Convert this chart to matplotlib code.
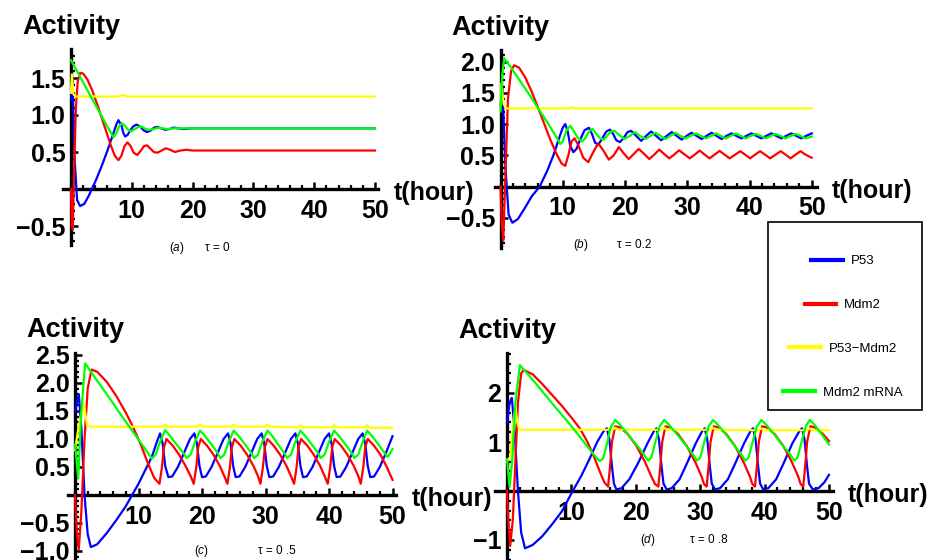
import matplotlib.pyplot as plt
from matplotlib.ticker import MultipleLocator
from matplotlib.patches import Rectangle

plt.rcParams['font.family'] = ['Liberation Sans', 'DejaVu Sans']
plt.rcParams['mathtext.fontset'] = 'custom'
plt.rcParams['mathtext.it'] = 'Liberation Sans:italic'
plt.rcParams['mathtext.rm'] = 'Liberation Sans'

# ---- data (t in hours, activity) ----
species = ['P53', 'Mdm2', 'P53\u2212Mdm2', 'Mdm2 mRNA']
colors = ['#0000ff', '#ff0000', '#ffff00', '#00ff00']
xticks = [10, 20, 30, 40, 50]
xticklabels = ['10', '20', '30', '40', '50']

# (a) tau = 0
p53_a_t = [0, 0.25, 0.6, 1.0, 1.5, 2.2, 3.0, 3.4, 4.0, 5.0, 6.0, 7.0, 7.5, 7.8, 8.3, 8.6, 8.9, 9.3, 9.8, 10.3,
           10.8, 11.4, 12.0, 12.5, 13.1, 13.7, 14.2, 14.8, 15.5, 16.2, 16.9, 17.6, 18.5, 20.0, 50.0]
p53_a = [1.2, 1.5, 0.4, -0.15, -0.23, -0.2, -0.08, 0.0, 0.1, 0.3, 0.52, 0.76, 0.88, 0.93, 0.86, 0.76, 0.71, 0.73,
         0.8, 0.85, 0.87, 0.84, 0.79, 0.77, 0.79, 0.83, 0.84, 0.82, 0.80, 0.81, 0.83, 0.82, 0.81, 0.82, 0.82]
mdm2_a_t = [0, 0.15, 0.3, 0.5, 0.8, 1.1, 1.5, 2.0, 2.7, 3.5, 4.5, 5.5, 6.5, 7.2, 7.8, 8.3, 8.8, 9.3, 9.8, 10.3,
            10.9, 11.5, 12.0, 12.5, 13.0, 13.6, 14.2, 14.9, 15.6, 16.3, 17.1, 18.0, 19.0, 20.0, 50.0]
mdm2_a = [0.0, -0.45, -0.55, 0.2, 1.1, 1.45, 1.57, 1.56, 1.48, 1.33, 1.1, 0.85, 0.6, 0.45, 0.39, 0.45, 0.58, 0.63,
          0.58, 0.49, 0.46, 0.52, 0.58, 0.59, 0.55, 0.5, 0.49, 0.52, 0.55, 0.53, 0.50, 0.52, 0.53, 0.52, 0.52]
cplx_a_t = [0, 0.15, 0.4, 0.8, 7.8, 8.5, 9.2, 50]
cplx_a = [1.3, 1.55, 1.28, 1.25, 1.25, 1.27, 1.25, 1.25]
mrna_a_t = [0, 1, 2, 3, 4, 5, 6, 7.0, 7.5, 8.0, 8.4, 8.9, 9.4, 9.9, 10.5, 11.1, 11.7, 12.3, 12.9, 13.6, 14.3,
            15.0, 15.8, 17.0, 50.0]
mrna_a = [1.74, 1.59, 1.44, 1.29, 1.14, 0.99, 0.84, 0.70, 0.76, 0.86, 0.89, 0.85, 0.80, 0.78, 0.81, 0.84, 0.84,
          0.81, 0.80, 0.81, 0.83, 0.82, 0.81, 0.82, 0.82]

# (b) tau = 0.2
p53_b_t = [0, 0.3, 0.8, 1.3, 1.9, 2.8, 4.0, 5.0, 6.3, 7.5, 8.5, 9.5, 10.0, 10.4, 10.8, 11.2, 11.7, 12.2, 12.8,
           13.5, 14.2, 14.7, 15.2, 15.7, 16.3, 17.0, 17.6, 18.1, 18.6, 19.2, 19.8, 20.4, 21.0, 21.8, 22.6, 23.4,
           24.2, 25.0, 25.8, 26.7, 27.5, 28.3, 29.1, 29.9, 30.7, 31.5, 32.3, 33.1, 33.9, 34.7, 35.5, 36.3, 37.1,
           37.9, 38.7, 39.5, 40.3, 41.1, 41.9, 42.7, 43.5, 44.3, 45.1, 45.9, 46.7, 47.5, 48.3, 49.1, 50.0]
p53_b = [1.3, 1.6, 0.3, -0.45, -0.58, -0.52, -0.33, -0.16, 0.0, 0.25, 0.5, 0.8, 0.94, 1.0, 0.88, 0.65, 0.55, 0.6,
         0.75, 0.9, 0.94, 0.84, 0.7, 0.67, 0.76, 0.88, 0.91, 0.84, 0.74, 0.71, 0.78, 0.87, 0.89, 0.81, 0.73, 0.81,
         0.88, 0.81, 0.74, 0.81, 0.87, 0.81, 0.75, 0.81, 0.86, 0.81, 0.76, 0.81, 0.86, 0.81, 0.76, 0.81, 0.85,
         0.81, 0.77, 0.81, 0.85, 0.81, 0.77, 0.81, 0.85, 0.81, 0.77, 0.81, 0.85, 0.81, 0.77, 0.81, 0.85]
mdm2_b_t = [0, 0.2, 0.45, 0.8, 1.2, 1.7, 2.2, 3.0, 4.0, 5.0, 6.0, 7.0, 8.0, 9.0, 9.8, 10.4, 10.9, 11.4, 11.9,
            12.5, 13.3, 14.1, 14.9, 15.7, 16.5, 17.4, 18.2, 19.0, 19.8, 20.6, 21.4, 22.2, 23.1, 23.9, 24.7, 25.5,
            26.3, 27.1, 27.9, 28.7, 29.6, 30.4, 31.2, 32.0, 32.8, 33.6, 34.4, 35.2, 36.0, 36.8, 37.7, 38.5, 39.3,
            40.1, 40.9, 41.7, 42.5, 43.3, 44.2, 45.0, 45.8, 46.6, 47.4, 48.2, 49.0, 50.0]
mdm2_b = [0.0, -0.6, -0.86, 0.2, 1.4, 1.85, 1.94, 1.9, 1.74, 1.52, 1.27, 1.01, 0.75, 0.52, 0.37, 0.33, 0.5, 0.72,
          0.77, 0.66, 0.46, 0.39, 0.55, 0.69, 0.58, 0.43, 0.5, 0.63, 0.53, 0.44, 0.52, 0.60, 0.52, 0.44, 0.51,
          0.59, 0.52, 0.45, 0.51, 0.58, 0.51, 0.45, 0.51, 0.575, 0.51, 0.45, 0.51, 0.57, 0.51, 0.45, 0.51, 0.565,
          0.51, 0.45, 0.51, 0.565, 0.51, 0.45, 0.51, 0.565, 0.51, 0.45, 0.51, 0.565, 0.51, 0.46]
cplx_b_t = [0, 0.15, 0.5, 0.9, 11.0, 11.4, 11.8, 50]
cplx_b = [1.3, 1.65, 1.32, 1.25, 1.25, 1.27, 1.25, 1.25]
mrna_b_t = [0, 0.3, 0.6, 1.5, 3.0, 4.5, 6.0, 7.5, 8.8, 9.6, 10.0, 10.6, 11.2, 11.7, 12.4, 13.1, 13.6, 14.2, 14.8,
            15.4, 16.0, 16.6, 17.2, 17.8, 18.3, 19.1, 19.9, 20.8, 21.6, 22.4, 23.3, 24.1, 24.9, 25.7, 26.5, 27.3,
            28.1, 28.9, 29.7, 30.5, 31.4, 32.2, 33.0, 33.8, 34.6, 35.4, 36.2, 37.0, 37.8, 38.6, 39.4, 40.2, 41.0,
            41.8, 42.6, 43.4, 44.2, 45.0, 45.8, 46.6, 47.4, 48.2, 49.0, 50.0]
mrna_b = [1.2, 1.8, 2.05, 1.93, 1.71, 1.49, 1.26, 1.03, 0.82, 0.68, 0.72, 0.9, 0.97, 0.9, 0.78, 0.72, 0.77, 0.88,
          0.92, 0.84, 0.77, 0.75, 0.82, 0.88, 0.89, 0.82, 0.76, 0.81, 0.87, 0.81, 0.76, 0.81, 0.86, 0.81, 0.76,
          0.81, 0.86, 0.81, 0.77, 0.81, 0.85, 0.81, 0.77, 0.81, 0.85, 0.81, 0.77, 0.81, 0.85, 0.81, 0.77, 0.81,
          0.84, 0.81, 0.77, 0.81, 0.84, 0.81, 0.77, 0.81, 0.84, 0.81, 0.77, 0.80]

# (c) tau = 0.5
p53_c_t = [0, 0.6, 1.0, 1.5, 2.0, 2.5, 3.5, 5.0, 6.5, 8.0, 9.0, 10.0, 11.0, 12.1, 12.9, 13.4, 13.8, 14.2, 14.7,
           15.3, 16.2, 17.2, 18.1, 18.8, 19.2, 19.6, 20.0, 20.6, 21.5, 22.5, 23.4, 24.1, 24.5, 24.9, 25.3, 25.9,
           26.8, 27.8, 28.7, 29.4, 29.8, 30.2, 30.6, 31.2, 32.1, 33.1, 34.0, 34.7, 35.1, 35.5, 35.9, 36.5, 37.4,
           38.4, 39.3, 40.0, 40.4, 40.8, 41.2, 41.8, 42.7, 43.7, 44.6, 45.3, 45.7, 46.1, 46.5, 47.1, 48.0, 49.0, 50.0]
p53_c = [1.5, 1.8, 1.2, 0.0, -0.7, -0.93, -0.88, -0.68, -0.45, -0.2, 0.0, 0.2, 0.43, 0.68, 0.95, 1.1, 0.92, 0.52,
         0.32, 0.33, 0.5, 0.76, 1.0, 1.1, 0.92, 0.52, 0.32, 0.33, 0.5, 0.76, 1.0, 1.1, 0.92, 0.52, 0.32, 0.33, 0.5,
         0.76, 1.0, 1.1, 0.92, 0.52, 0.32, 0.33, 0.5, 0.76, 1.0, 1.1, 0.92, 0.52, 0.32, 0.33, 0.5, 0.76, 1.0, 1.1,
         0.92, 0.52, 0.32, 0.33, 0.5, 0.76, 1.0, 1.1, 0.92, 0.52, 0.32, 0.33, 0.5, 0.76, 1.05]
mdm2_c_t = [0, 0.3, 0.6, 1.0, 1.5, 2.0, 2.6, 3.5, 5.0, 6.5, 8.0, 9.2, 10.5, 11.5, 12.5, 13.3, 13.7, 14.0, 14.4,
            15.4, 16.4, 17.4, 18.2, 18.7, 19.1, 19.4, 19.8, 20.8, 21.8, 22.8, 23.5, 24.0, 24.4, 24.7, 25.1, 26.1,
            27.1, 28.1, 28.8, 29.2, 29.6, 29.9, 30.3, 31.3, 32.3, 33.3, 34.0, 34.5, 34.9, 35.2, 35.6, 36.6, 37.6,
            38.6, 39.3, 39.8, 40.2, 40.5, 40.9, 41.9, 42.9, 43.9, 44.6, 45.0, 45.4, 45.7, 46.1, 47.1, 48.1, 49.1, 50.0]
mdm2_c = [0.0, -0.7, -0.97, -0.3, 1.0, 1.9, 2.24, 2.2, 2.02, 1.77, 1.47, 1.2, 0.86, 0.56, 0.3, 0.2, 0.5, 0.85,
          1.0, 0.88, 0.72, 0.52, 0.34, 0.2, 0.5, 0.85, 1.0, 0.88, 0.72, 0.52, 0.34, 0.2, 0.5, 0.85, 1.0, 0.88,
          0.72, 0.52, 0.34, 0.2, 0.5, 0.85, 1.0, 0.88, 0.72, 0.52, 0.34, 0.2, 0.5, 0.85, 1.0, 0.88, 0.72, 0.52,
          0.34, 0.2, 0.5, 0.85, 1.0, 0.88, 0.72, 0.52, 0.34, 0.2, 0.5, 0.85, 1.0, 0.88, 0.72, 0.5, 0.27]
cplx_c_t = [0, 0.6, 1.4, 1.9, 2.5, 13.8, 14.2, 14.6, 19.3, 19.7, 20.1, 24.6, 25.0, 25.4, 29.9, 30.3, 30.7, 35.1,
            35.5, 35.9, 40.4, 40.8, 41.2, 45.6, 46.0, 46.4, 50.0]
cplx_c = [0.8, 1.25, 1.62, 1.25, 1.22, 1.22, 1.26, 1.22, 1.22, 1.26, 1.22, 1.22, 1.26, 1.22, 1.22, 1.26, 1.22,
          1.21, 1.25, 1.21, 1.21, 1.25, 1.21, 1.21, 1.25, 1.2, 1.2]
mrna_c_t = [0, 0.5, 1.0, 1.6, 3.0, 5.0, 7.0, 9.0, 11.0, 12.1, 12.7, 13.4, 14.2, 15.0, 16.0, 17.0, 17.6, 18.2,
            18.9, 19.7, 20.5, 21.5, 22.4, 22.9, 23.5, 24.2, 25.0, 25.8, 26.8, 27.7, 28.2, 28.8, 29.5, 30.3, 31.1,
            32.0, 32.9, 33.4, 34.0, 34.7, 35.5, 36.3, 37.3, 38.2, 38.7, 39.3, 40.0, 40.8, 41.6, 42.6, 43.5, 44.0,
            44.6, 45.3, 46.0, 46.8, 47.8, 48.7, 49.2, 49.6, 50.0]
mrna_c = [0.9, 0.3, 1.5, 2.35, 2.12, 1.8, 1.47, 1.15, 0.83, 0.65, 0.72, 0.95, 1.16, 1.05, 0.9, 0.76, 0.66, 0.72,
          0.95, 1.15, 1.05, 0.9, 0.76, 0.66, 0.72, 0.95, 1.15, 1.05, 0.9, 0.76, 0.66, 0.72, 0.95, 1.15, 1.05, 0.9,
          0.76, 0.66, 0.72, 0.95, 1.15, 1.05, 0.9, 0.76, 0.66, 0.72, 0.95, 1.15, 1.05, 0.9, 0.76, 0.66, 0.72, 0.95,
          1.15, 1.05, 0.9, 0.76, 0.68, 0.74, 0.82]

# (d) tau = 0.8
p53_d_t = [0, 0.4, 0.75, 1.2, 1.7, 2.2, 2.8, 4.0, 5.5, 7.0, 8.5, 10.2, 11.5, 12.8, 14.0, 15.0, 15.5, 15.9, 16.3,
           16.6, 17.0, 17.8, 19.0, 20.4, 21.8, 22.8, 23.2, 23.6, 24.0, 24.3, 24.8, 25.6, 26.8, 28.0, 29.3, 30.3,
           30.7, 31.1, 31.5, 31.8, 32.3, 33.1, 34.3, 35.5, 36.8, 37.8, 38.2, 38.6, 39.0, 39.3, 39.8, 40.6, 41.8,
           43.0, 44.3, 45.4, 45.8, 46.2, 46.6, 46.9, 47.5, 48.4, 49.3, 50.0]
p53_d = [1.4, 1.8, 1.9, 1.2, 0.0, -0.85, -1.17, -1.1, -0.92, -0.68, -0.42, 0.0, 0.3, 0.65, 1.0, 1.22, 1.28, 1.05,
         0.5, 0.15, 0.03, 0.06, 0.24, 0.58, 0.97, 1.22, 1.28, 1.05, 0.5, 0.15, 0.03, 0.06, 0.24, 0.58, 0.97, 1.22,
         1.28, 1.05, 0.5, 0.15, 0.03, 0.06, 0.24, 0.58, 0.97, 1.22, 1.28, 1.05, 0.5, 0.15, 0.03, 0.06, 0.24, 0.58,
         0.97, 1.22, 1.28, 1.05, 0.5, 0.15, 0.03, 0.06, 0.18, 0.33]
mdm2_d_t = [0, 0.2, 0.5, 0.9, 1.3, 1.7, 2.2, 2.6, 4.0, 5.5, 7.0, 8.5, 10.0, 11.3, 12.5, 13.5, 14.4, 15.1, 15.7,
            16.0, 16.3, 16.8, 17.5, 18.7, 20.1, 21.4, 22.4, 23.0, 23.5, 23.8, 24.1, 24.6, 25.3, 26.5, 27.9, 29.2,
            30.2, 30.6, 31.0, 31.3, 31.6, 32.1, 32.8, 34.0, 35.4, 36.7, 37.7, 38.1, 38.5, 38.8, 39.1, 39.6, 40.3,
            41.5, 42.9, 44.2, 45.2, 45.6, 46.0, 46.3, 46.6, 47.1, 47.8, 49.0, 50.0]
mdm2_d = [0.0, -0.6, -1.12, -0.6, 0.6, 1.8, 2.4, 2.47, 2.38, 2.18, 1.96, 1.74, 1.5, 1.28, 1.0, 0.7, 0.4, 0.18,
          0.09, 0.5, 1.0, 1.32, 1.3, 1.17, 0.92, 0.6, 0.3, 0.14, 0.09, 0.5, 1.0, 1.32, 1.3, 1.17, 0.92, 0.6, 0.3,
          0.14, 0.09, 0.5, 1.0, 1.32, 1.3, 1.17, 0.92, 0.6, 0.3, 0.14, 0.09, 0.5, 1.0, 1.32, 1.3, 1.17, 0.92, 0.6,
          0.3, 0.14, 0.09, 0.5, 1.0, 1.32, 1.3, 1.17, 1.02]
cplx_d_t = [0, 0.5, 1.0, 1.3, 1.6, 1.9, 2.5, 16.4, 16.8, 17.2, 24.0, 24.4, 24.8, 31.6, 32.0, 32.4, 39.1, 39.5,
            39.9, 46.6, 47.0, 47.4, 50.0]
cplx_d = [0.6, 0.7, 1.4, 1.72, 1.4, 1.26, 1.25, 1.25, 1.29, 1.25, 1.25, 1.29, 1.25, 1.25, 1.29, 1.25, 1.24, 1.28,
          1.24, 1.24, 1.28, 1.24, 1.24]
mrna_d_t = [0, 0.4, 0.8, 1.3, 2.0, 3.0, 4.5, 6.0, 7.5, 9.0, 10.5, 12.0, 13.2, 14.0, 14.4, 14.9, 15.5, 16.1, 16.8,
            17.5, 18.7, 20.0, 21.2, 21.9, 22.4, 23.0, 23.7, 24.4, 25.1, 26.3, 27.6, 28.8, 29.5, 30.0, 30.6, 31.3,
            32.0, 32.7, 33.9, 35.1, 36.3, 37.0, 37.5, 38.1, 38.8, 39.5, 40.2, 41.4, 42.6, 43.9, 44.6, 45.1, 45.7,
            46.4, 47.0, 47.7, 48.9, 50.0]
mrna_d = [0.65, 0.08, 0.6, 1.8, 2.57, 2.42, 2.19, 1.95, 1.71, 1.48, 1.24, 0.99, 0.79, 0.66, 0.61, 0.66, 0.95, 1.3,
          1.45, 1.36, 1.17, 0.96, 0.76, 0.62, 0.68, 0.98, 1.32, 1.45, 1.36, 1.17, 0.96, 0.76, 0.62, 0.68, 0.98,
          1.32, 1.45, 1.36, 1.17, 0.96, 0.76, 0.62, 0.68, 0.98, 1.32, 1.45, 1.36, 1.17, 0.96, 0.76, 0.62, 0.68,
          0.98, 1.32, 1.45, 1.36, 1.15, 0.95]

yticks_a = [-0.5, 0.5, 1.0, 1.5]
yticks_b = [-0.5, 0.5, 1.0, 1.5, 2.0]
yticks_c = [-1.0, -0.5, 0.5, 1.0, 1.5, 2.0, 2.5]
yticks_d = [-1, 1, 2]
ylabels_a = ['\u22120.5', '0.5', '1.0', '1.5']
ylabels_b = ['\u22120.5', '0.5', '1.0', '1.5', '2.0']
ylabels_c = ['\u22121.0', '\u22120.5', '0.5', '1.0', '1.5', '2.0', '2.5']
ylabels_d = ['\u22121', '1', '2']

W, H = 935, 560
fig = plt.figure(figsize=(W / 100, H / 100), dpi=100)


def panel(x0, y0, sx, sy, xlim, ylim, yticks, ylabels, yminor, curves):
    # x0, y0: pixel position of the origin; sx, sy: pixels per unit
    left = x0 + xlim[0] * sx
    right = x0 + xlim[1] * sx
    top = y0 - ylim[1] * sy
    bottom = y0 - ylim[0] * sy
    ax = fig.add_axes([left / W, 1 - bottom / H, (right - left) / W, (bottom - top) / H])
    ax.set_facecolor('none')
    lines = []
    for (t, v), c in zip(curves, colors):
        ln, = ax.plot(t, v, color=c, lw=1.6, zorder=3, solid_joinstyle='round')
        lines.append(ln)
    ax.set_xlim(xlim)
    ax.set_ylim(ylim)
    for s in ['top', 'right']:
        ax.spines[s].set_visible(False)
    for s in ['left', 'bottom']:
        ax.spines[s].set_position(('data', 0))
        ax.spines[s].set_linewidth(2.4)
    ax.set_xticks(xticks, xticklabels, fontsize=18, fontweight='bold')
    ax.set_yticks(yticks, ylabels, fontsize=18, fontweight='bold')
    ax.xaxis.set_minor_locator(MultipleLocator(2))
    ax.yaxis.set_minor_locator(MultipleLocator(yminor))
    ax.tick_params(which='both', direction='in')
    ax.tick_params(which='major', length=5, width=1.8)
    ax.tick_params(which='minor', length=3, width=1.6)
    ax.tick_params(axis='x', pad=7)
    ax.tick_params(axis='y', pad=4)
    ax.annotate('Activity', xy=(0, 1), xycoords=('data', 'axes fraction'), xytext=(0, 11),
                textcoords='offset points', ha='center', va='baseline', fontsize=19.5,
                fontweight='bold', annotation_clip=False)
    ax.annotate('t(hour)', xy=(1, 0), xycoords=('axes fraction', 'data'), xytext=(11, -3),
                textcoords='offset points', ha='left', va='center', fontsize=18,
                fontweight='bold', annotation_clip=False)
    return lines


handles = panel(71, 189, 6.08, 74, (-1.3, 50.5), (-0.76, 1.89), yticks_a, ylabels_a, 0.1,
                [(p53_a_t, p53_a), (mdm2_a_t, mdm2_a), (cplx_a_t, cplx_a), (mrna_a_t, mrna_a)])
panel(500.5, 186.5, 6.225, 62.5, (-0.9, 50.8), (-0.98, 2.18), yticks_b, ylabels_b, 0.1,
      [(p53_b_t, p53_b), (mdm2_b_t, mdm2_b), (cplx_b_t, cplx_b), (mrna_b_t, mrna_b)])
panel(75, 495, 6.35, 56, (-1.05, 50.6), (-1.3, 2.54), yticks_c, ylabels_c, 0.1,
      [(p53_c_t, p53_c), (mdm2_c_t, mdm2_c), (cplx_c_t, cplx_c), (mrna_c_t, mrna_c)])
panel(507, 491, 6.44, 49, (-1.9, 50.6), (-1.45, 2.82), yticks_d, ylabels_d, 0.2,
      [(p53_d_t, p53_d), (mdm2_d_t, mdm2_d), (cplx_d_t, cplx_d), (mrna_d_t, mrna_d)])

# sub captions
captions = [('a', '\u03c4 = 0', 177, 205, 248), ('b', '\u03c4 = 0.2', 581, 617, 245),
            ('c', '\u03c4 = 0 .5', 201, 258, 551), ('d', '\u03c4 = 0 .8', 648, 690, 540)]
for letter, tau, xl, xt, yc in captions:
    fig.text(xl / W, 1 - yc / H, '($\\mathit{%s}$)' % letter, ha='center', va='center', fontsize=8.5)
    fig.text(xt / W, 1 - yc / H, tau, ha='left', va='center', fontsize=8.5)

# legend box
leg = fig.legend(handles, species, loc='center', bbox_to_anchor=(843 / W, 1 - 327 / H), frameon=False,
                 fontsize=9.5, labelspacing=2.4, handlelength=2.4, handletextpad=0.6)
for col in leg._legend_handle_box.get_children():
    col.align = 'center'
for ln in leg.get_lines():
    ln.set_linewidth(3)
fig.add_artist(Rectangle((768 / W, 1 - 410 / H), 154 / W, 188 / H, transform=fig.transFigure,
                         fill=False, ec='black', lw=1.2))

fig.savefig('out.png', dpi=100)
